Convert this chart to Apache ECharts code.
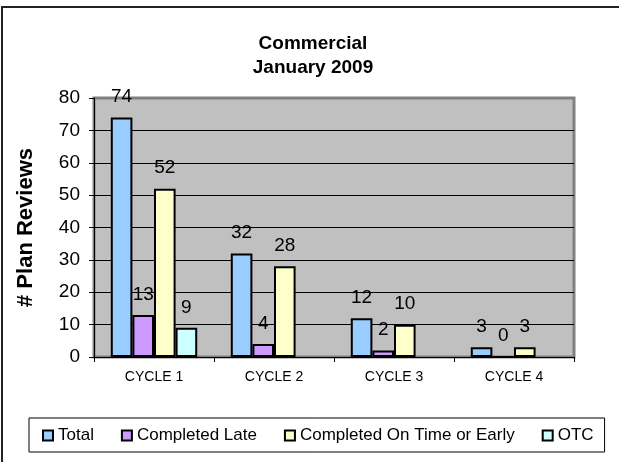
<!DOCTYPE html>
<html>
<head>
<meta charset="utf-8">
<script src="https://cdn.jsdelivr.net/npm/echarts@6/dist/echarts.min.js"></script>
<style>
  html, body { margin: 0; padding: 0; background: #fff; }
  #chart { width: 619px; height: 462px; }
</style>
</head>
<body>
<div id="chart"></div>
<script>
// data
var categories = ['CYCLE 1', 'CYCLE 2', 'CYCLE 3', 'CYCLE 4'];
var total = [74, 32, 12, 3];
var completedLate = [13, 4, 2, 0];
var completedOnTime = [52, 28, 10, 3];
var otc = [9, null, null, null];

var myChart = echarts.init(document.getElementById('chart'));

function bar(name, color, data) {
  return {
    type: 'bar',
    name: name,
    data: data,
    barGap: '0%',
    barCategoryGap: '28%',
    itemStyle: { color: color, borderColor: '#000', borderWidth: 2 },
    label: {
      show: true,
      position: 'top',
      distance: 11,
      fontSize: 19,
      color: '#000'
    }
  };
}

var option = {
  animation: false,
  textStyle: { fontFamily: 'Liberation Sans, Arial, sans-serif' },
  title: {
    text: 'Commercial\nJanuary 2009',
    left: 313,
    textAlign: 'center',
    top: 32,
    padding: 0,
    textStyle: {
      fontSize: 19,
      fontWeight: 'bold',
      lineHeight: 24,
      color: '#000'
    }
  },
  graphic: [{
    type: 'rect',
    shape: { x: 2, y: 7, width: 700, height: 600 },
    style: { fill: 'none', stroke: '#222', lineWidth: 2 },
    silent: true
  }],
  legend: {
    left: 29,
    top: 418,
    padding: [9, 11, 8, 13],
    itemGap: 27,
    itemWidth: 10,
    itemHeight: 10,
    icon: 'rect',
    borderColor: '#000',
    borderWidth: 1,
    itemStyle: { borderColor: '#000', borderWidth: 2 },
    textStyle: { fontSize: 17, color: '#000' }
  },
  grid: {
    left: 94,
    right: 45,
    top: 98,
    bottom: 105,
    show: true,
    backgroundColor: '#c0c0c0',
    borderColor: '#808080',
    borderWidth: 3
  },
  xAxis: {
    type: 'category',
    data: categories,
    axisLine: { lineStyle: { color: '#000', width: 1 } },
    axisTick: { show: true, length: 5, lineStyle: { color: '#000' } },
    axisLabel: { fontSize: 14, color: '#000', margin: 13 }
  },
  yAxis: {
    type: 'value',
    min: 0,
    max: 80,
    interval: 10,
    name: '# Plan Reviews',
    nameLocation: 'middle',
    nameGap: 57,
    nameTextStyle: { fontSize: 22, fontWeight: 'bold', color: '#000' },
    axisLine: { show: true, lineStyle: { color: '#000', width: 1 } },
    axisTick: { show: true, length: 5, lineStyle: { color: '#000' } },
    axisLabel: { fontSize: 19, color: '#000', margin: 14 },
    splitLine: {
      lineStyle: {
        color: ['#000', '#000', '#000', '#000', '#000', '#000', '#000', '#000', '#808080'],
        width: 1
      }
    }
  },
  series: [
    bar('Total', '#99ccff', total),
    bar('Completed Late', '#cc99ff', completedLate),
    bar('Completed On Time or Early', '#ffffcc', completedOnTime),
    bar('OTC', '#ccffff', otc)
  ]
};

myChart.setOption(option);
window.onresize = function () {
  myChart.resize();
};
</script>
</body>
</html>
